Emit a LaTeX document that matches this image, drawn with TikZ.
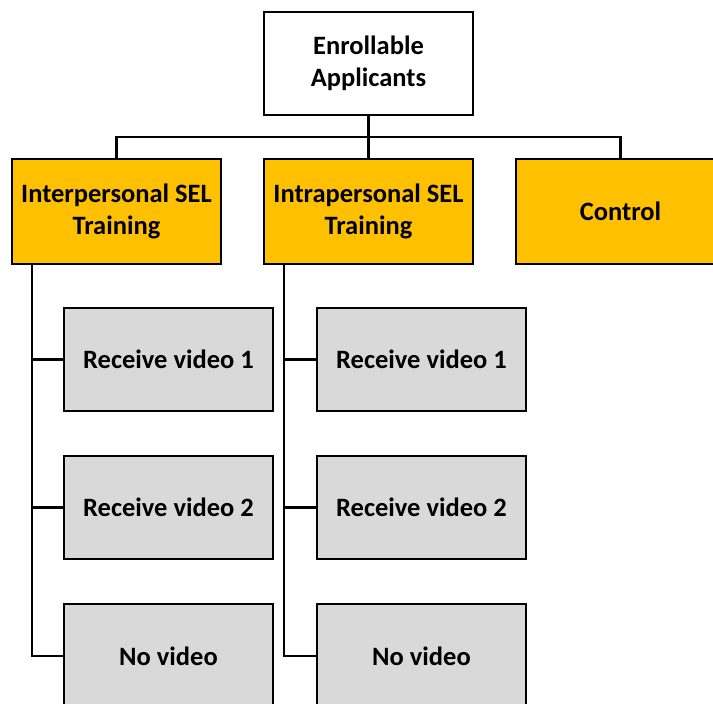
\documentclass[tikz,border=0pt]{standalone}
\usepackage{fontspec}
\setmainfont{Carlito}
\begin{document}
\begin{tikzpicture}[x=1pt,y=1pt,
  box/.style={draw=black, line width=2.2pt, minimum width=209pt, inner sep=0pt, align=center,
    font=\bfseries\fontsize{26.5}{31.5}\selectfont},
  topbox/.style={box, fill=white, minimum height=103pt},
  orange/.style={box, fill={rgb,255:red,255;green,192;blue,0}, minimum height=105pt},
  grey/.style={box, fill={rgb,255:red,217;green,217;blue,217}, minimum height=103pt},
  conn/.style={draw=black, line width=2.2pt}]
\useasboundingbox (0,0) rectangle (713,-704);
\clip (0,0) rectangle (713,-704);
\node[topbox] (top) at (368.5,-63.5) {Enrollable\\Applicants};
\node[orange] (L1) at (116.5,-211.5) {Interpersonal SEL\\Training};
\node[orange] (L2) at (368.5,-211.5) {Intrapersonal SEL\\Training};
\node[orange] (L3) at (620.5,-211.5) {Control};
\node[grey] (a1) at (168.5,-359.5) {Receive video 1};
\node[grey] (a2) at (168.5,-507.5) {Receive video 2};
\node[grey, minimum height=104pt] (a3) at (168.5,-656) {No video};
\node[grey] (b1) at (421.5,-359.5) {Receive video 1};
\node[grey] (b2) at (421.5,-507.5) {Receive video 2};
\node[grey, minimum height=104pt] (b3) at (421.5,-656) {No video};
\coordinate (bus) at (368.5,-137);
\draw[conn] (top.south) -- (bus);
\draw[conn] (L1.north) |- (bus) -| (L3.north);
\draw[conn] (bus) -- (L2.north);
\draw[conn] ([xshift=21pt]L1.south west) |- (a3.west);
\draw[conn] ([xshift=21pt]L1.south west) |- (a1.west);
\draw[conn] ([xshift=21pt]L1.south west) |- (a2.west);
\draw[conn] ([xshift=21pt]L2.south west) |- (b3.west);
\draw[conn] ([xshift=21pt]L2.south west) |- (b1.west);
\draw[conn] ([xshift=21pt]L2.south west) |- (b2.west);
\end{tikzpicture}
\end{document}
